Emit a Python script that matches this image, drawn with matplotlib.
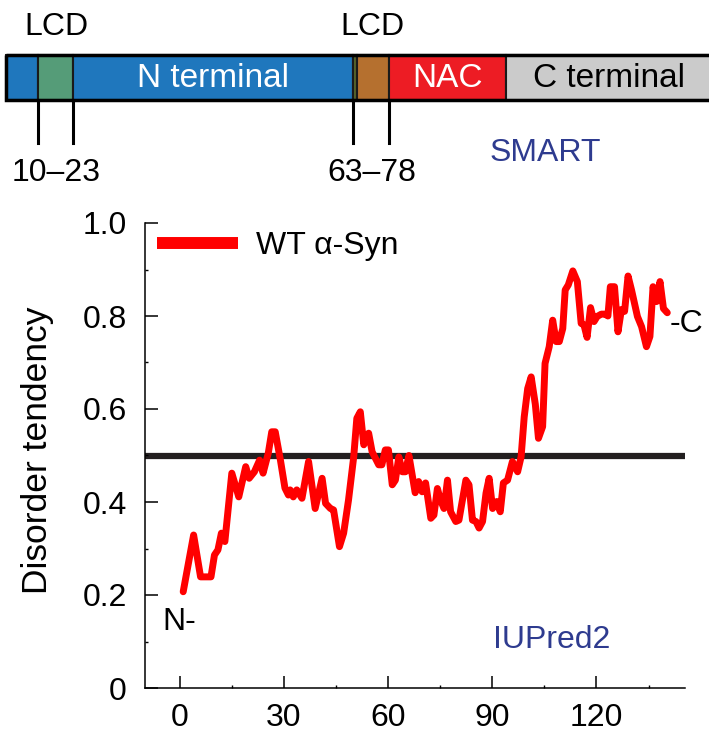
import matplotlib
matplotlib.use('Agg')
from matplotlib import pyplot as plt
from matplotlib.patches import Rectangle
from matplotlib.ticker import MultipleLocator

plt.rcParams['font.family'] = ['Liberation Sans', 'DejaVu Sans']

# IUPred2 disorder profile of WT alpha-synuclein
residue = [1, 4, 6, 9, 10, 11, 12, 13, 15, 17, 19, 20, 21.5, 23, 24, 25.5, 26.5, 27.5,
           29, 30.3, 31.3, 31.8, 32.7, 33.7, 35.2, 37.1, 39, 41, 42, 43.4, 44.3, 46, 47.2,
           48.6, 50.1, 51, 52, 53, 54.4, 55.4, 57.3, 58.2, 59.2, 60.1, 61.2, 62.1, 63.1,
           64.1, 65, 66, 67.8, 68.8, 69.8, 70.8, 72.3, 73.2, 74.2, 75.1, 76.1, 77.1, 78,
           79.5, 80.4, 81.4, 82.4, 83.3, 84.3, 85.3, 86.2, 87.2, 88.2, 89.1, 90.1, 91.3,
           92.3, 93.2, 94.4, 95.8, 97.3, 98.3, 99.2, 100.2, 101.2, 102.4, 103.3, 104.5,
           105.2, 106.4, 107.4, 108.4, 109.3, 110.3, 111, 111.9, 113.2, 114.5, 115.6,
           116.4, 117.3, 118.3, 119.3, 120.2, 121.4, 122.5, 123.3, 124, 125.2, 126.2,
           127.2, 128.1, 129.1, 130.1, 131.8, 133, 134.4, 135.4, 136.3, 137.3, 138.3,
           139.3, 140.4]
disorder = [0.207, 0.329, 0.239, 0.239, 0.286, 0.297, 0.333, 0.315, 0.462, 0.411, 0.476,
            0.451, 0.465, 0.49, 0.462, 0.505, 0.551, 0.551, 0.49, 0.43, 0.415, 0.426,
            0.411, 0.426, 0.408, 0.487, 0.386, 0.451, 0.397, 0.386, 0.383, 0.304, 0.333,
            0.404, 0.497, 0.58, 0.594, 0.523, 0.548, 0.508, 0.48, 0.48, 0.512, 0.512,
            0.437, 0.447, 0.497, 0.465, 0.465, 0.5, 0.42, 0.444, 0.422, 0.441, 0.365,
            0.372, 0.429, 0.404, 0.386, 0.447, 0.379, 0.358, 0.361, 0.404, 0.447, 0.437,
            0.361, 0.358, 0.344, 0.358, 0.419, 0.451, 0.386, 0.401, 0.379, 0.441, 0.447,
            0.487, 0.465, 0.497, 0.583, 0.644, 0.669, 0.61, 0.537, 0.562, 0.698, 0.734,
            0.791, 0.745, 0.745, 0.773, 0.856, 0.867, 0.897, 0.874, 0.784, 0.781, 0.754,
            0.818, 0.788, 0.799, 0.804, 0.804, 0.8, 0.863, 0.863, 0.766, 0.814, 0.81,
            0.886, 0.856, 0.799, 0.777, 0.734, 0.756, 0.863, 0.831, 0.874, 0.816, 0.807]
threshold = 0.5

# SMART domain schematic (not to scale)
domain_names = ['', '', 'N terminal', '', '', 'NAC', 'C terminal']
domain_colors = ['#1f77bd', '#559c78', '#1f77bd', '#56652c', '#b5702f', '#ed1c24', '#cbcbcb']
domain_text_colors = ['white', 'white', 'white', 'white', 'white', 'white', 'black']
domain_edges = [6, 38, 73, 353, 357, 389, 506, 712]
lcd_labels = ['10\u201323', '63\u201378']
lcd_edges = [(38, 73), (353, 389)]

fig = plt.figure(figsize=(7.09, 7.34), dpi=100)

# ---- top schematic, drawn in pixel-like coordinates
top = fig.add_axes([0, 0, 1, 1])
top.set_xlim(0, 709)
top.set_ylim(734, 0)
top.axis('off')
bar_top, bar_bot = 55, 100
for name, c, tc, x0, x1 in zip(domain_names, domain_colors, domain_text_colors,
                                domain_edges[:-1], domain_edges[1:]):
    top.add_patch(Rectangle((x0, bar_top), x1 - x0, bar_bot - bar_top,
                            facecolor=c, edgecolor='#1a1a1a', lw=1.5))
    if name:
        top.text((x0 + x1) / 2, (bar_top + bar_bot) / 2 + 1, name, color=tc,
                 fontsize=24, ha='center', va='center')
top.add_patch(Rectangle((domain_edges[0], bar_top), 800, bar_bot - bar_top,
                        facecolor='none', edgecolor='black', lw=2.5))
for lab, (x0, x1) in zip(lcd_labels, lcd_edges):
    for xx in (x0, x1):
        top.plot([xx, xx], [bar_bot, 143], color='black', lw=2.2)
    top.text((x0 + x1) / 2 + 1, 27, 'LCD', fontsize=23, ha='center', va='center')
    top.text((x0 + x1) / 2 + 1, 173, lab, fontsize=23, ha='center', va='center')
top.text(545, 153, 'SMART', color='#2e3b8f', fontsize=23, ha='center', va='center')

# ---- disorder plot
ax = fig.add_axes([145 / 709, 46 / 734, 540 / 709, 465 / 734])
ax.axhline(threshold, color='#231f20', lw=4.5, zorder=1)
ax.plot(residue, disorder, color='#ff0000', lw=5, solid_joinstyle='round',
        solid_capstyle='round', label='WT \u03b1-Syn', zorder=2)
ax.set_xlim(-10, 145.5)
ax.set_ylim(0, 1.0)
ax.xaxis.set_major_locator(MultipleLocator(30))
ax.xaxis.set_minor_locator(MultipleLocator(15))
ax.yaxis.set_major_locator(MultipleLocator(0.2))
ax.yaxis.set_minor_locator(MultipleLocator(0.1))
ax.set_yticks([0, 0.2, 0.4, 0.6, 0.8, 1.0])
ax.set_yticklabels(['0', '0.2', '0.4', '0.6', '0.8', '1.0'])
ax.tick_params(which='major', direction='in', length=9, width=1.1, labelsize=23)
ax.tick_params(which='minor', direction='in', length=2.5, width=1)
ax.tick_params(axis='x', which='major', pad=11)
ax.tick_params(axis='y', which='major', pad=13)
for s in ('top', 'right'):
    ax.spines[s].set_visible(False)
for s in ('left', 'bottom'):
    ax.spines[s].set_linewidth(1.1)

fig.text(38 / 709, 1 - 450 / 734, 'Disorder tendency', rotation=90, fontsize=25.5,
         ha='center', va='center')
ax.text(-5, 0.142, 'N-', fontsize=23, ha='left', va='center')
ax.text(141.2, 0.783, '-C', fontsize=23, ha='left', va='center', clip_on=False)
ax.text(107, 0.103, 'IUPred2', color='#2e3b8f', fontsize=23, ha='center', va='center')

leg = ax.legend(loc='center left', bbox_to_anchor=(12 / 540, 0.9505), frameon=False,
                fontsize=23, handlelength=2.55, handletextpad=0.55,
                borderaxespad=0, borderpad=0)
leg.get_lines()[0].set_linewidth(8.6)
leg.get_lines()[0].set_solid_capstyle('butt')

fig.savefig('out.png', dpi=100)
